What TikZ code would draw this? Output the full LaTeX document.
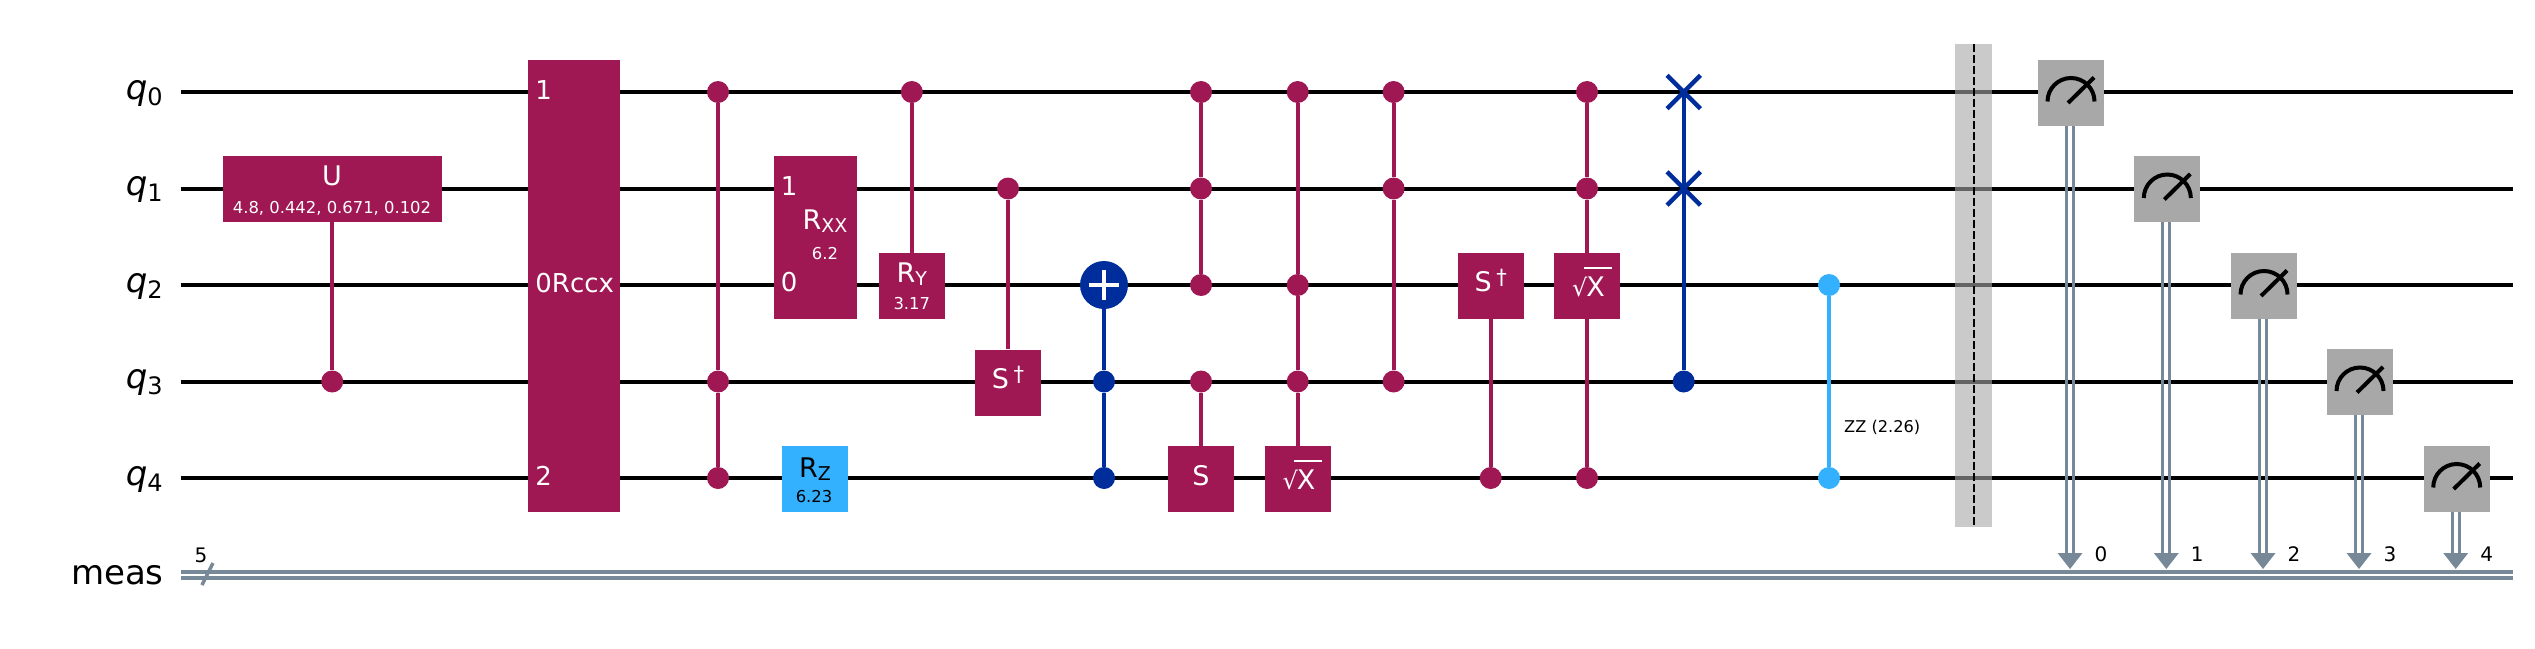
\documentclass[tikz,border=0pt]{standalone}
\usepackage{fontspec}
\setmainfont{DejaVu Sans}
\usetikzlibrary{shapes.misc,calc}
\pgfdeclarelayer{paperlayer}
\pgfdeclarelayer{wirelayer}
\pgfdeclarelayer{connlayer}
\pgfsetlayers{paperlayer,wirelayer,connlayer,main}
\definecolor{qmag}{HTML}{9F1853}
\definecolor{qcyan}{HTML}{33B1FF}
\definecolor{qblue}{HTML}{002D9C}
\definecolor{qgrey}{HTML}{A8A8A8}
\definecolor{qslate}{HTML}{778899}
\newcommand{\fs}[1]{\fontsize{#1}{#1}\selectfont}
\newcommand{\lowsub}[1]{\raisebox{-1.6pt}{\fs{9.5}#1}}
\newcommand{\rootx}{{\fs{12}√}\kern-0.6pt\rlap{\kern-1.2pt\rule[13.7pt]{14pt}{0.6pt}}X}
\newcommand{\sdag}{S\kern2.4pt\raisebox{3.4pt}{\fs{10.5}†}}
\tikzset{
  x=0.5pt,y=-0.5pt,
  wire/.style={line width=2pt,black},
  clwire/.style={line width=1.75pt,qslate},
  gatebox/.style={rectangle,fill=#1,inner sep=0pt,minimum width=33pt,minimum height=33pt},
  gatebox/.default=qmag,
  mbox/.style={rectangle,fill=qgrey,inner sep=0pt,minimum width=33pt,minimum height=33pt},
  ctrl/.style={circle,fill=#1,inner sep=0pt,minimum size=11pt},
  ctrl/.default=qmag,
  conn/.style={line width=1.9pt,#1},
  conn/.default=qmag,
  swapx/.style={cross out,draw=qblue,line width=2.2pt,inner sep=0pt,minimum size=14.5pt},
  tmain/.style={anchor=base,inner sep=0pt,text=white,font=\fs{13.5}},
  tpar/.style={anchor=base,inner sep=0pt,text=white,font=\fs{8.2}},
  tport/.style={anchor=base west,inner sep=0pt,text=white,font=\fs{13}},
  tq/.style={anchor=base east,inner sep=0pt,font=\fs{17}},
  tbit/.style={anchor=base,inner sep=0pt,font=\fs{10}},
}
\newcommand{\meter}[4]{% name, box x, wire y, bit
  \node[mbox] (m#1) at (#2,#3+0.5) {};
  \coordinate (a#1) at (#2-1,569);
  \draw[line width=2pt,line cap=butt,black] ($(m#1.center)+(-23.5,9)$) arc[start angle=180,end angle=360,radius=23.5];
  \draw[line width=2pt,black] ($(m#1.center)+(-3,10.5)$) -- ($(m#1.center)+(23,-15)$);
  \begin{pgfonlayer}{connlayer}
    \draw[line width=1.65pt,qslate] ($(m#1.south)+(-4.5,0)$) -- ($(a#1)+(-3.5,-8)$);
    \draw[line width=1.65pt,qslate] ($(m#1.south)+(2.5,0)$) -- ($(a#1)+(3.5,-8)$);
  \end{pgfonlayer}
  \fill[qslate] (a#1) -- ($(a#1)+(-12.5,-16)$) -- ($(a#1)+(12.5,-16)$) -- cycle;
  \node[tbit] (b#1) at (#2+30,561) {#4};
}
\begin{document}
\begin{tikzpicture}
\useasboundingbox (0,0) rectangle (2535,648);
\begin{pgfonlayer}{paperlayer}
\fill[white] (0,0) rectangle (2535,648);
\end{pgfonlayer}
% wires
\foreach \n/\yy in {0/92,1/188.5,2/285,3/381.5,4/478}{
  \coordinate (ws\n) at (180.5,\yy);
  \coordinate (we\n) at (2513,\yy);
  \begin{pgfonlayer}{wirelayer}
    \draw[wire] (ws\n) -- (we\n);
  \end{pgfonlayer}
  \node[tq] (lq\n) at (163,\yy+7) {\itshape q\raisebox{-3pt}{\upshape\fs{12}\n}};
}
\node[tq] (lmeas) at (164,584) {meas};
\coordinate (cs1) at (180.5,572); \coordinate (ce1) at (2513,572);
\coordinate (cs2) at (180.5,578); \coordinate (ce2) at (2513,578);
\begin{pgfonlayer}{wirelayer}
  \draw[clwire] (cs1) -- (ce1);
  \draw[clwire] (cs2) -- (ce2);
\end{pgfonlayer}
\coordinate (sl1) at (202,585); \coordinate (sl2) at (213,563);
\draw[clwire] (sl1) -- (sl2);
\node[tbit] (l5) at (201,562) {5};
% U gate
\node[gatebox] (u) at (332.2,189) [minimum width=109.5pt] {};
\node[tmain] (ut) at (332,185.7) {U};
\node[tpar] (up) at (332,213.3) {4.8, 0.442, 0.671, 0.102};
\node[ctrl] (uc) at (332.2,381.5) {};
\begin{pgfonlayer}{connlayer}\draw[conn] (u) -- (uc);\end{pgfonlayer}
% Rccx
\node[gatebox] (rccx) at (574,285.8) [minimum width=46pt,minimum height=226pt] {};
\node[tport] (r1) at (535,99) {1};
\node[tport] (r0) at (535,292) {0Rccx};
\node[tport] (r2) at (535,485) {2};
% CCZ 1
\node[ctrl] (a0) at (718,92) {};
\node[ctrl] (a3) at (718,381.5) {};
\node[ctrl] (a4) at (718,478) {};
\begin{pgfonlayer}{connlayer}\draw[conn] (a0) -- (a3) -- (a4);\end{pgfonlayer}
% Rxx
\node[gatebox] (rxx) at (815.5,237.5) [minimum width=41.5pt,minimum height=81.5pt] {};
\node[tport] (rx1) at (780.5,195.5) {1};
\node[tport] (rx0) at (780.5,291) {0};
\node[tmain] (rxt) at (825,229) {R\lowsub{XX}};
\node[tpar] (rxp) at (825,259.4) {6.2};
% Rz
\node[gatebox=qcyan] (rz) at (815,479) {};
\node[tmain,text=black] (rzt) at (815,477) {R\lowsub{Z}};
\node[tpar,text=black] (rzp) at (814,502) {6.23};
% Ry
\node[ctrl] (ryc) at (911.8,92) {};
\node[gatebox] (ry) at (911.8,286) {};
\node[tmain] (ryt) at (911.8,282) {R\lowsub{Y}};
\node[tpar] (ryp) at (911.8,309) {3.17};
\begin{pgfonlayer}{connlayer}\draw[conn] (ryc) -- (ry);\end{pgfonlayer}
% Sdg 1
\node[ctrl] (s1c) at (1008,188.5) {};
\node[gatebox] (s1) at (1008,382.5) {};
\node[tmain] (s1t) at (1008,388) {\sdag};
\begin{pgfonlayer}{connlayer}\draw[conn] (s1c) -- (s1);\end{pgfonlayer}
% CCX
\node[circle,fill=qblue,inner sep=0pt,minimum size=24pt] (cx) at (1104,285) {};
\draw[white,line width=2.3pt] ($(cx.center)+(-14.6,0)$) -- ($(cx.center)+(14.6,0)$);
\draw[white,line width=2.3pt] ($(cx.center)+(0,-14.6)$) -- ($(cx.center)+(0,14.6)$);
\node[ctrl=qblue] (cx3) at (1104,381.5) {};
\node[ctrl=qblue] (cx4) at (1104,478) {};
\begin{pgfonlayer}{connlayer}\draw[conn=qblue] (cx) -- (cx3) -- (cx4);\end{pgfonlayer}
% CCCS
\node[ctrl] (c0) at (1201,92) {};
\node[ctrl] (c1) at (1201,188.5) {};
\node[ctrl] (c2) at (1201,285) {};
\node[ctrl] (c3) at (1201,381.5) {};
\node[gatebox] (cs) at (1201,479) {};
\node[tmain] (cst) at (1201,485) {S};
\begin{pgfonlayer}{connlayer}
  \draw[conn] (c0) -- (c1) -- (c2);
  \draw[conn] (c3) -- (cs);
\end{pgfonlayer}
% C sqrtX
\node[ctrl] (d0) at (1297.7,92) {};
\node[ctrl] (d2) at (1297.7,285) {};
\node[ctrl] (d3) at (1297.7,381.5) {};
\node[gatebox] (ds) at (1297.7,479) {};
\node[tmain] (dst) at (1299,489) {\rootx};
\begin{pgfonlayer}{connlayer}\draw[conn] (d0) -- (d2) -- (d3) -- (ds);\end{pgfonlayer}
% CCZ 2
\node[ctrl] (e0) at (1393.6,92) {};
\node[ctrl] (e1) at (1393.6,188.5) {};
\node[ctrl] (e3) at (1393.6,381.5) {};
\begin{pgfonlayer}{connlayer}\draw[conn] (e0) -- (e1) -- (e3);\end{pgfonlayer}
% Sdg 2
\node[gatebox] (s2) at (1490.7,286) {};
\node[tmain] (s2t) at (1490.7,291.5) {\sdag};
\node[ctrl] (s2c) at (1490.7,478) {};
\begin{pgfonlayer}{connlayer}\draw[conn] (s2) -- (s2c);\end{pgfonlayer}
% CC sqrtX
\node[ctrl] (f0) at (1587,92) {};
\node[ctrl] (f1) at (1587,188.5) {};
\node[gatebox] (fs) at (1587,286) {};
\node[tmain] (fst) at (1588.5,296) {\rootx};
\node[ctrl] (f4) at (1587,478) {};
\begin{pgfonlayer}{connlayer}\draw[conn] (f0) -- (f1) -- (fs) -- (f4);\end{pgfonlayer}
% CSwap
\node[swapx] (sw0) at (1683.7,92) {};
\node[swapx] (sw1) at (1683.7,188.5) {};
\node[ctrl=qblue] (sw3) at (1683.7,381.5) {};
\begin{pgfonlayer}{connlayer}\draw[conn=qblue] (sw0.center) -- (sw1.center) -- (sw3);\end{pgfonlayer}
% ZZ
\node[ctrl=qcyan] (z2) at (1829,285) {};
\node[ctrl=qcyan] (z4) at (1829,478) {};
\begin{pgfonlayer}{connlayer}\draw[conn=qcyan] (z2) -- (z4);\end{pgfonlayer}
\node[anchor=base west,inner sep=0pt,font=\fs{8.1}] (zl) at (1843.8,432) {ZZ (2.26)};
% barrier
\coordinate (bt) at (1974,44); \coordinate (bb) at (1974,526.6);
\begin{pgfonlayer}{connlayer}
  \fill[qgrey,opacity=0.6] (1955,44) rectangle (1992,526.6);
  \draw[black,line width=1pt,dash pattern=on 4pt off 1.5pt] (bt) -- (bb);
\end{pgfonlayer}
% measures
\meter{0}{2071}{92}{0}
\meter{1}{2167.3}{188.5}{1}
\meter{2}{2264}{285}{2}
\meter{3}{2360}{381.5}{3}
\meter{4}{2456.7}{478}{4}
\end{tikzpicture}
\end{document}
